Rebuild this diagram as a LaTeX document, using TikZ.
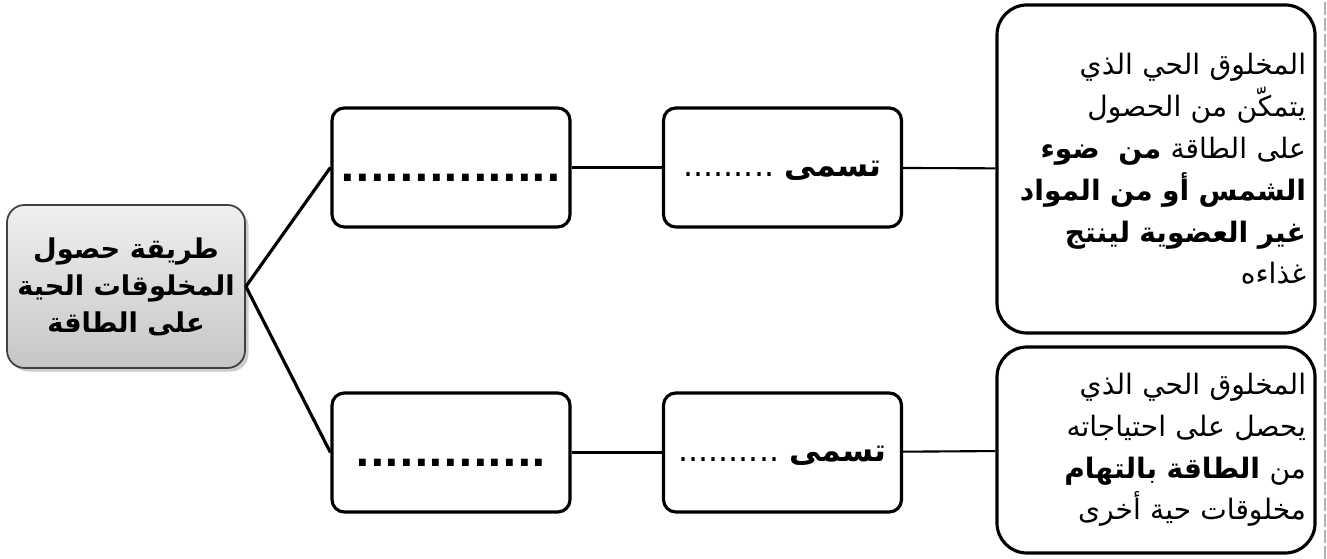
\documentclass[tikz,border=0pt]{standalone}
\usepackage{fontspec}
\newfontfamily\arabicfont[Script=Arabic]{DejaVu Sans}
\TeXXeTstate=1
\usetikzlibrary{shadows}

\newcommand{\arline}[1]{\beginR #1\endR}

\tikzset{
  rootbox/.style={draw=black!75, line width=1pt, rounded corners=10pt,
    top color=gray!12, bottom color=gray!45,
    drop shadow={shadow xshift=2pt, shadow yshift=-2pt, fill=black!40},
    minimum width=4.76cm, minimum height=3.26cm, align=center,
    font=\arabicfont\bfseries\fontsize{15.5}{21}\selectfont},
  blankbox/.style={draw, line width=1.8pt, rounded corners=7pt,
    minimum width=4.76cm, minimum height=2.38cm, fill=white},
  dotsbox/.style={blankbox, text height=0.56cm, text depth=0cm,
    font=\arabicfont\bfseries\fontsize{22}{24}\selectfont},
  callbox/.style={blankbox, text height=0.5cm, text depth=0.12cm},
  infobox/.style={draw, line width=1.8pt, rounded corners=17pt,
    minimum width=6.36cm, text width=6.0cm, inner xsep=0.12cm, align=right, fill=white,
    font=\arabicfont\fontsize{16}{23.8}\selectfont},
  link/.style={line width=1.2pt},
  branch/.style={line width=1.8pt}
}

\begin{document}
\begin{tikzpicture}[font=\arabicfont\fontsize{18}{22}\selectfont]
\useasboundingbox (0,0) rectangle (26.54,11.18);

% root
\draw (2.52,5.45) node[rootbox](root) {\arline{طريقة حصول}\\ \arline{المخلوقات الحية}\\ \arline{على الطاقة}};

% answer boxes
\draw (9.02,7.83) node[dotsbox](nameone) {...............};
\draw (9.02,2.13) node[dotsbox](nametwo) {.............};

% called boxes
\draw (15.65,7.83) node[callbox](callone) {\arline{{\bfseries تسمى} .........}};
\draw (15.65,2.13) node[callbox](calltwo) {\arline{{\bfseries تسمى} ..........}};

% definitions
\draw (23.12,7.8) node[infobox, minimum height=6.56cm](defone) {%
\arline{المخلوق الحي الذي}\\
\arline{يتمكّن من الحصول}\\
\arline{على الطاقة {\bfseries من\ \ ضوء}}\\
\arline{{\bfseries الشمس أو من المواد}}\\
\arline{{\bfseries غير العضوية لينتج}}\\
\arline{غذاءه}};
\draw (23.12,2.18) node[infobox, minimum height=4.12cm](deftwo) {%
\arline{المخلوق الحي الذي}\\
\arline{يحصل على احتياجاته}\\
\arline{من {\bfseries الطاقة بالتهام}}\\
\arline{مخلوقات حية أخرى}};

\draw[branch] (root.east) -- (nameone.west);
\draw[branch] (root.east) -- (nametwo.west);
\draw[link] (nameone) -- (callone);
\draw[link] (nametwo) -- (calltwo);
\draw[link] (callone) -- (defone);
\draw[link] (calltwo) -- (deftwo);

% page edge
\draw[gray!60, line width=1pt, dash pattern=on 0.26cm off 0.06cm] (26.5,0) -- (26.5,11.18);
\end{tikzpicture}
\end{document}
